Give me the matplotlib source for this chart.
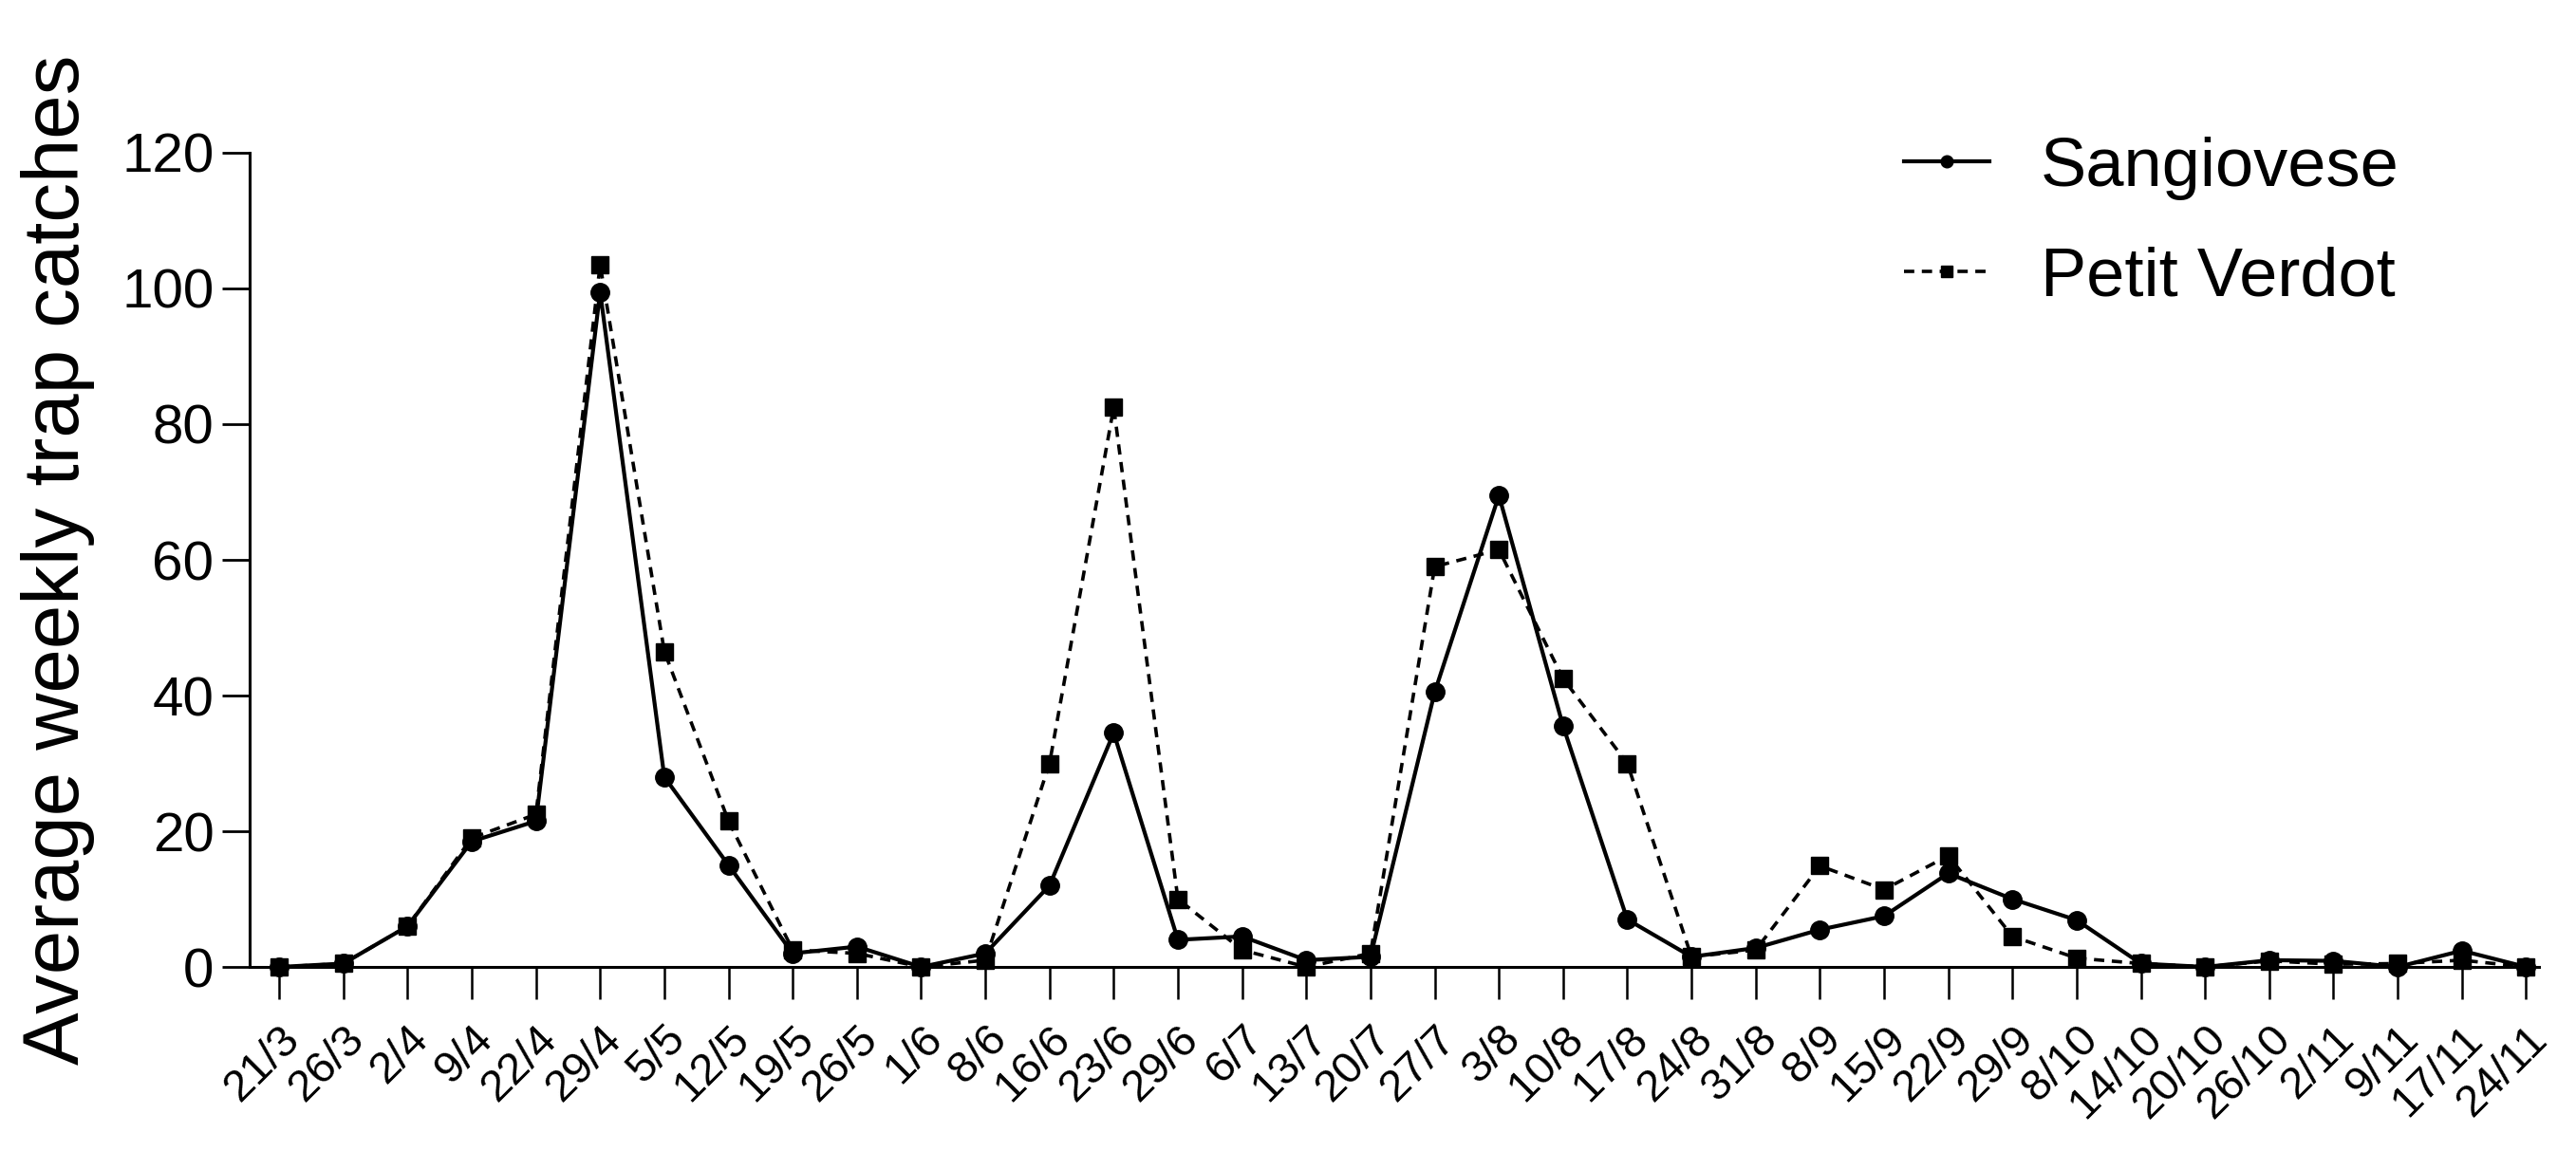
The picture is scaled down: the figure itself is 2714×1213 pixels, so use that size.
import matplotlib
matplotlib.use("Agg")
import matplotlib.pyplot as plt
import numpy as np

plt.rcParams['font.family'] = ['Liberation Sans', 'DejaVu Sans']

dates = ["21/3", "26/3", "2/4", "9/4", "22/4", "29/4", "5/5", "12/5", "19/5",
         "26/5", "1/6", "8/6", "16/6", "23/6", "29/6", "6/7", "13/7", "20/7",
         "27/7", "3/8", "10/8", "17/8", "24/8", "31/8", "8/9", "15/9", "22/9",
         "29/9", "8/10", "14/10", "20/10", "26/10", "2/11", "9/11", "17/11", "24/11"]

sangiovese = [0, 0.5, 6, 18.5, 21.5, 99.5, 28, 15, 2, 3, 0, 2, 12, 34.5, 4,
              4.5, 1, 1.5, 40.5, 69.5, 35.5, 7, 1.5, 2.8, 5.5, 7.5, 13.8, 10,
              6.9, 0.5, 0, 1, 0.9, 0, 2.4, 0]

petit_verdot = [0, 0.5, 6, 19, 22.5, 103.5, 46.5, 21.5, 2.5, 2, 0, 1, 30,
                82.5, 10, 2.5, 0, 2, 59, 61.5, 42.5, 30, 1.5, 2.5, 14.9, 11.4,
                16.4, 4.5, 1.3, 0.5, 0, 0.9, 0.4, 0.5, 1, 0]

x = np.arange(len(dates))

fig = plt.figure(figsize=(27.14, 12.13), dpi=100)
ax = fig.add_axes([0.0969, 0.1599, 0.8887, 0.7074])

ax.plot(x, sangiovese, color='black', lw=3.0, marker='o', markersize=14,
        label='Sangiovese', clip_on=False, zorder=3)
ax.plot(x, petit_verdot, color='black', lw=2.6, ls=(0, (3, 2.2)), marker='s',
        markersize=13, label='Petit Verdot', clip_on=False, zorder=3)

ax.set_xlim(-0.46, 35.2)
ax.set_ylim(0, 120)
ax.set_yticks(np.arange(0, 121, 20))
ax.set_xticks(x)
ax.set_xticklabels(dates, rotation=45, ha='right', rotation_mode='anchor')

for s in ['top', 'right']:
    ax.spines[s].set_visible(False)
for s in ['left', 'bottom']:
    ax.spines[s].set_linewidth(2.2)

ax.tick_params(axis='y', length=21, width=2, labelsize=42, pad=6)
ax.tick_params(axis='x', length=24.5, width=1.8, labelsize=34, pad=14)

ax.set_ylabel('Average weekly trap catches', fontsize=60, labelpad=20)

ax.legend(loc='upper right', bbox_to_anchor=(0.966, 1.096), frameon=False,
          fontsize=52, handlelength=1.25, handletextpad=0.75, labelspacing=0.68,
          markerscale=0.65)

fig.savefig('out.png', dpi=100)
